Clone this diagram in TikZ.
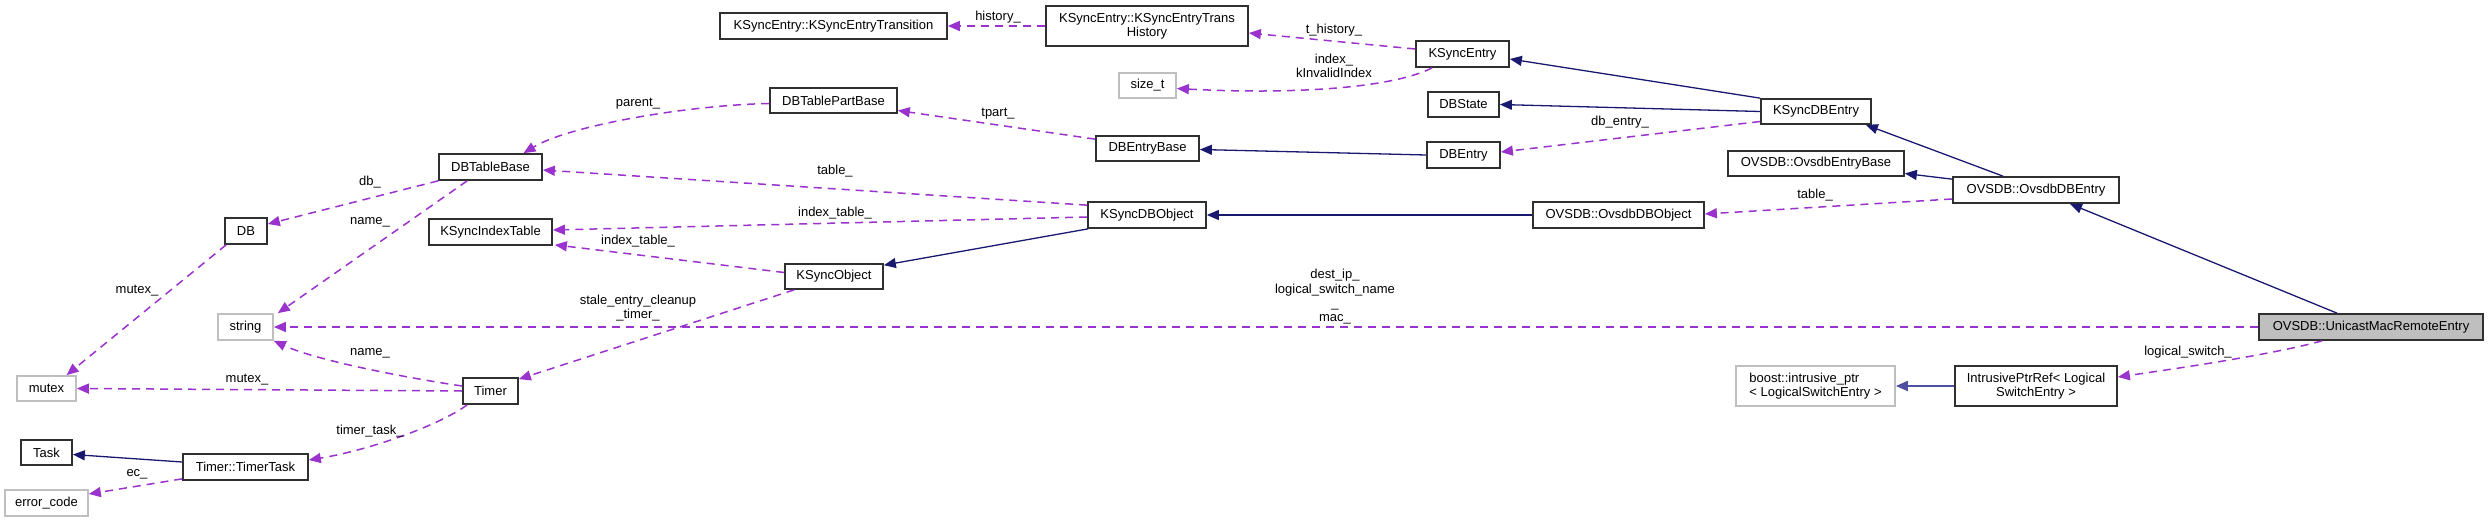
\documentclass[tikz,border=0pt]{standalone}
\usepackage{fontspec}
\setmainfont{Liberation Sans}
\usetikzlibrary{arrows.meta,calc}
\definecolor{edgep}{HTML}{9A32CD}
\definecolor{inhb}{HTML}{191970}
\definecolor{tmplb}{HTML}{5050A0}
\definecolor{gry}{HTML}{BFBFBF}
\definecolor{bord}{HTML}{303030}
\begin{document}
\begin{tikzpicture}[x=1pt,y=-1pt,
  every node/.style={font=\fontsize{13}{14.3}\selectfont},
  cls/.style={draw=bord, line width=1.7pt, minimum height=26pt, inner sep=0pt, align=center, fill=white},
  ext/.style={cls, draw=gry},
  inh/.style={draw=inhb, line width=1.3pt, -{Triangle[length=12pt,width=10pt]}},
  inhtwo/.style={draw=tmplb, line width=2pt, -{Triangle[length=12pt,width=10pt]}},
  use/.style={draw=edgep, line width=1.5pt, dash pattern=on 8pt off 6pt, -{Triangle[length=12pt,width=10pt]}},
  lbl/.style={inner sep=0pt, align=center}]
\useasboundingbox (0,0) rectangle (2488,522);

% nodes
\node[cls, minimum width=227pt] (trans) at (833.5,26) {KSyncEntry::KSyncEntryTransition};
\node[cls, minimum width=202pt, minimum height=40pt] (hist) at (1147,26) {KSyncEntry::KSyncEntryTrans\\History};
\node[cls, minimum width=93pt] (kse) at (1462.5,54) {KSyncEntry};
\node[ext, minimum width=57pt, minimum height=25pt] (sizet) at (1147.5,85.5) {size\_t};
\node[cls, minimum width=127pt, minimum height=25pt] (dbtpb) at (833.5,100.5) {DBTablePartBase};
\node[cls, minimum width=71pt, minimum height=25pt] (dbstate) at (1463.5,104.5) {DBState};
\node[cls, minimum width=110pt, minimum height=25pt] (ksdbe) at (1816,111.5) {KSyncDBEntry};
\node[cls, minimum width=103pt, minimum height=25pt] (dbeb) at (1147.5,148.5) {DBEntryBase};
\node[cls, minimum width=73pt] (dbentry) at (1463.5,155) {DBEntry};
\node[cls, minimum width=176pt, minimum height=25pt] (ovseb) at (1816,163.5) {OVSDB::OvsdbEntryBase};
\node[cls, minimum width=166pt] (ovsdbe) at (2036,190) {OVSDB::OvsdbDBEntry};
\node[cls, minimum width=103pt] (dbtb) at (490.5,167) {DBTableBase};
\node[cls, minimum width=42pt] (db) at (246,231) {DB};
\node[cls, minimum width=123pt] (kit) at (490.5,232) {KSyncIndexTable};
\node[cls, minimum width=118pt] (ksdbo) at (1147,215) {KSyncDBObject};
\node[cls, minimum width=171pt] (ovsdbo) at (1618.5,215) {OVSDB::OvsdbDBObject};
\node[cls, minimum width=98pt, minimum height=25pt] (kso) at (834,276.5) {KSyncObject};
\node[ext, minimum width=55pt] (string) at (245.5,327) {string};
\node[cls, fill=gry, minimum width=224pt] (umre) at (2371,327) {OVSDB::UnicastMacRemoteEntry};
\node[ext, minimum width=59pt, minimum height=25pt] (mutex) at (46.5,388.5) {mutex};
\node[cls, minimum width=55pt] (timer) at (490.5,391) {Timer};
\node[ext, minimum width=159pt, minimum height=40pt, align=left] (boostp) at (1815.5,386) {boost::intrusive\_ptr\\{}< LogicalSwitchEntry >};
\node[cls, minimum width=162pt, minimum height=40pt] (iprf) at (2036,386) {IntrusivePtrRef< Logical\\SwitchEntry >};
\node[cls, minimum width=51pt, minimum height=25pt] (task) at (46.5,452.5) {Task};
\node[cls, minimum width=125pt] (ttask) at (245.5,467) {Timer::TimerTask};
\node[ext, minimum width=83pt] (errc) at (46.5,503) {error\_code};

% inheritance
\draw[inh] (ksdbe.north west) -- ($(kse.east)+(0,5)$);
\draw[inh] (ksdbe.west) -- (dbstate.east);
\draw[inh] (dbentry.west) -- ($(dbeb.east)+(0,1)$);
\draw[inh] ($(ovsdbe.north)+(-33,0)$) -- ($(ksdbe.south east)+(-6,0)$);
\draw[inh] ($(ovsdbe.north west)+(0,3)$) -- ($(ovseb.east)+(0,10)$);
\draw[inh] ($(umre.north)+(-34,0)$) -- ($(ovsdbe.south)+(34,0)$);
\draw[inh] (ovsdbo.west) -- (ksdbo.east);
\draw[inh] ($(ksdbo.south west)+(1,0)$) -- ($(kso.north east)+(0,2)$);
\draw[inh] ($(ttask.west)+(0,-5)$) -- ($(task.east)+(0,2)$);
\draw[inhtwo] (iprf.west) -- (boostp.east);

% usage
\draw[use] (hist.west) -- (trans.east) node[lbl] at (998,17) {history\_};
\draw[use] ($(kse.west)+(0,-5)$) -- ($(hist.east)+(0,7)$) node[lbl] at (1334,30) {t\_history\_};
\draw[use] ($(kse.south west)+(17,0)$) .. controls (1395,87) and (1300,95) .. ($(sizet.east)+(0,3)$) node[lbl] at (1334,66) {index\_\\kInvalidIndex};
\draw[use] ($(dbeb.north west)+(0,4)$) -- ($(dbtpb.east)+(0,10)$) node[lbl] at (998,114) {tpart\_};
\draw[use] ($(dbtpb.west)+(0,3)$) .. controls (690,105) and (570,125) .. ($(dbtb.north)+(33,0)$) node[lbl] at (638,104) {parent\_};
\draw[use] ($(ksdbo.north west)+(0,4)$) -- ($(dbtb.east)+(0,3)$) node[lbl] at (835,171) {table\_};
\draw[use] ($(ksdbo.west)+(0,2)$) -- ($(kit.east)+(0,-2)$) node[lbl] at (835,213) {index\_table\_};
\draw[use] ($(kso.west)+(0,-4)$) -- ($(kit.south east)+(2,-1)$) node[lbl] at (638,241) {index\_table\_};
\draw[use] ($(kso.south west)+(10,0)$) -- ($(timer.north east)+(0,2)$) node[lbl] at (638,308) {stale\_entry\_cleanup\\\_timer\_};
\draw[use] ($(ovsdbe.west)+(0,9)$) -- ($(ovsdbo.east)+(0,-1)$) node[lbl] at (1815,195) {table\_};
\draw[use] ($(ksdbe.west)+(0,10)$) -- ($(dbentry.east)+(0,-3)$) node[lbl] at (1620,122) {db\_entry\_};
\draw[use] (umre.west) -- (string.east) node[lbl] at (1335,297) {dest\_ip\_\\logical\_switch\_name\\\_\\mac\_};
\draw[use] ($(umre.south)+(-49,0)$) .. controls (2270,355) and (2180,368) .. ($(iprf.east)+(0,-9)$) node[lbl] at (2188,352) {logical\_switch\_};
\draw[use] (dbtb.south west) -- ($(db.east)+(0,-7)$) node[lbl] at (370,182) {db\_};
\draw[use] ($(dbtb.south west)+(29,0)$) -- ($(string.north east)+(4,0)$) node[lbl] at (370,222) {name\_};
\draw[use] ($(db.south west)+(2,0)$) -- ($(mutex.north)+(20,0)$) node[lbl] at (137,291) {mutex\_};
\draw[use] ($(timer.west)+(0,-5)$) .. controls (420,380) and (320,362) .. (string.south east) node[lbl] at (370,353) {name\_};
\draw[use] (timer.west) -- (mutex.east) node[lbl] at (247,380) {mutex\_};
\draw[use] ($(timer.south west)+(5,0)$) .. controls (440,425) and (370,450) .. ($(ttask.east)+(0,-7)$) node[lbl] at (370,431) {timer\_task\_};
\draw[use] ($(ttask.south west)+(0,-2)$) -- ($(errc.east)+(0,-9)$) node[lbl] at (137,474) {ec\_};
\end{tikzpicture}
\end{document}
